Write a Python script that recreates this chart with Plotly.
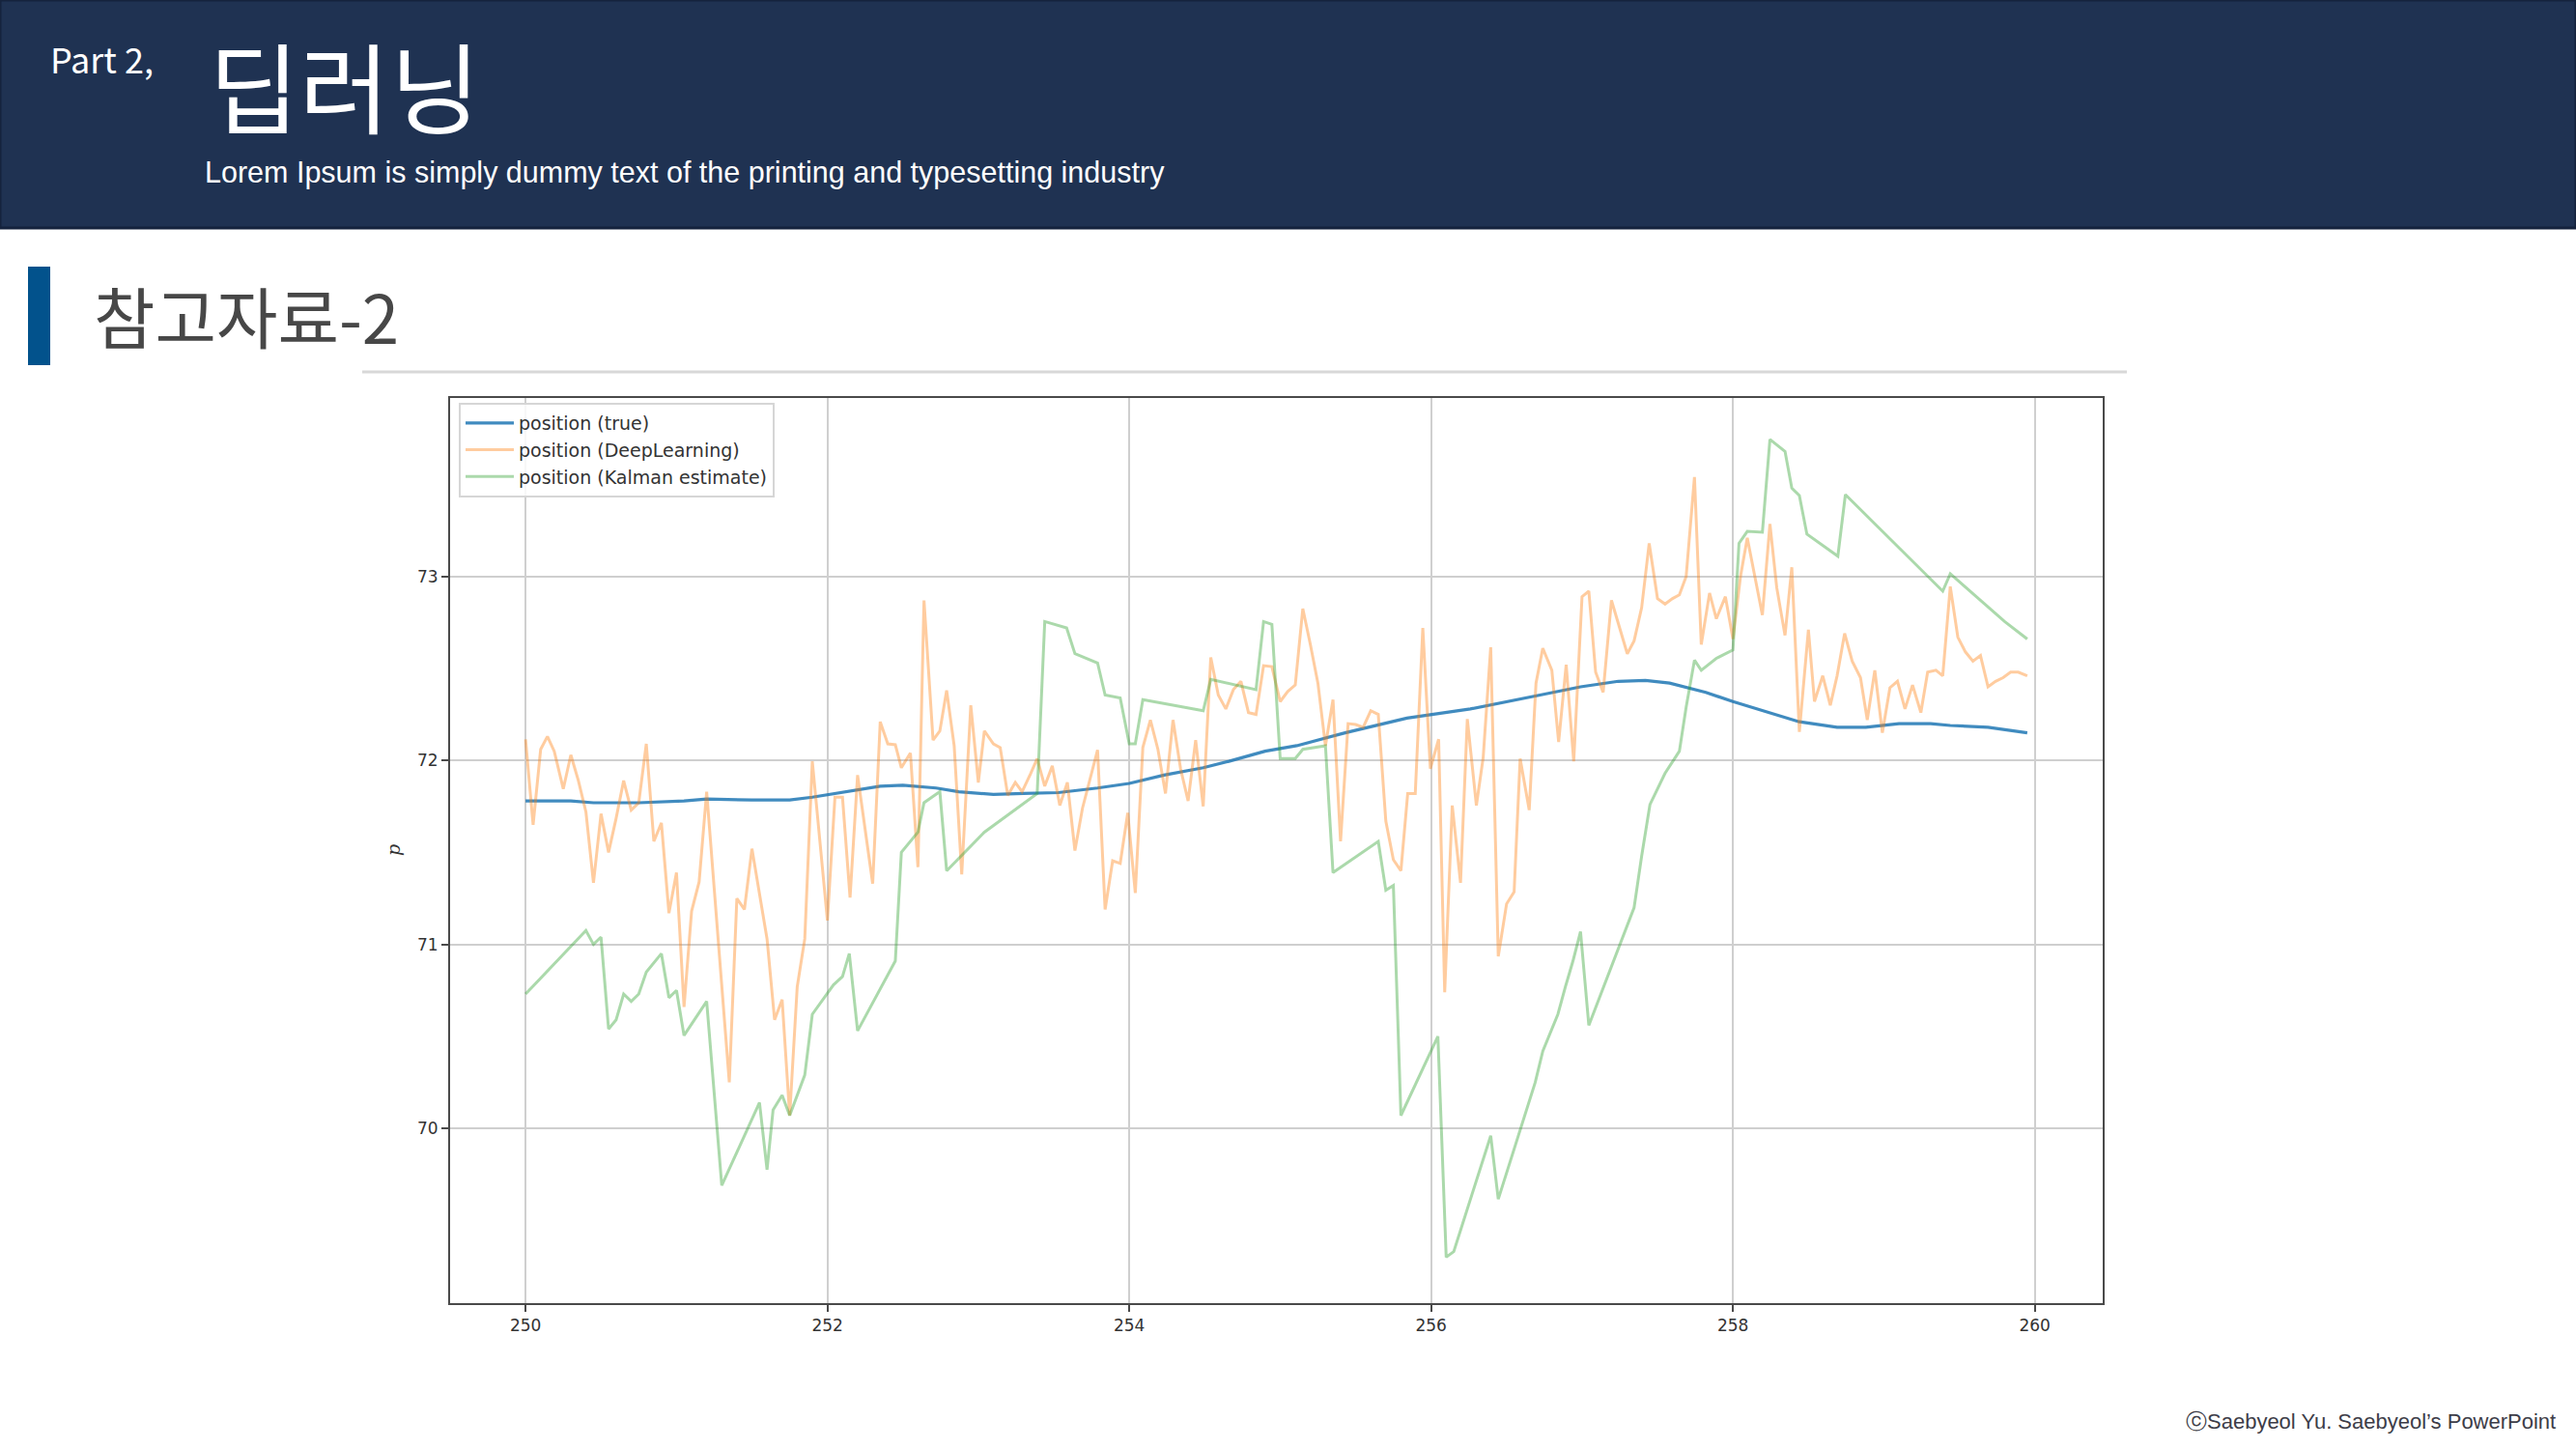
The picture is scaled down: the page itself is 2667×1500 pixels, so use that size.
import plotly.graph_objects as go

W, H = 2667, 1500

# ---- data ----
true_x = [250.0, 250.3, 250.45, 250.75, 251.05, 251.2, 251.5, 251.75, 251.9, 252.05,
          252.2, 252.35, 252.5, 252.72, 252.87, 253.1, 253.3, 253.53, 253.79, 254.0,
          254.23, 254.49, 254.66, 254.9, 255.11, 255.43, 255.84, 256.0, 256.26, 256.69,
          256.99, 257.24, 257.42, 257.58, 257.82, 258.0, 258.2, 258.44, 258.69, 258.88,
          259.1, 259.31, 259.44, 259.69, 259.95]
true_y = [71.78, 71.78, 71.77, 71.77, 71.78, 71.79, 71.785, 71.785, 71.80, 71.82,
          71.84, 71.86, 71.865, 71.85, 71.83, 71.815, 71.82, 71.825, 71.85, 71.875,
          71.92, 71.96, 71.995, 72.05, 72.08, 72.15, 72.23, 72.25, 72.28, 72.35,
          72.40, 72.43, 72.435, 72.42, 72.37, 72.32, 72.27, 72.21, 72.18, 72.18,
          72.20, 72.20, 72.19, 72.18, 72.15]

dl_x = [250.0, 250.05, 250.1, 250.145, 250.19, 250.25, 250.3, 250.35, 250.4, 250.45,
        250.5, 250.55, 250.6, 250.65, 250.7, 250.75, 250.8, 250.85, 250.9, 250.95,
        251.0, 251.05, 251.1, 251.15, 251.2, 251.35, 251.4, 251.45, 251.5, 251.6,
        251.65, 251.7, 251.75, 251.8, 251.85, 251.9, 252.0, 252.05, 252.1, 252.15,
        252.2, 252.3, 252.35, 252.4, 252.45, 252.49, 252.55, 252.6, 252.64, 252.7,
        252.745, 252.79, 252.84, 252.89, 252.95, 253.0, 253.04, 253.1, 253.145, 253.195,
        253.245, 253.29, 253.345, 253.39, 253.44, 253.49, 253.54, 253.59, 253.64, 253.69,
        253.79, 253.84, 253.89, 253.94, 253.99, 254.04, 254.09, 254.14, 254.19, 254.24,
        254.29, 254.34, 254.39, 254.44, 254.49, 254.54, 254.59, 254.64, 254.69, 254.74,
        254.79, 254.84, 254.89, 254.945, 255.0, 255.05, 255.1, 255.15, 255.2, 255.25,
        255.3, 255.35, 255.4, 255.45, 255.5, 255.55, 255.6, 255.65, 255.7, 255.75,
        255.8, 255.845, 255.895, 255.945, 255.995, 256.05, 256.09, 256.14, 256.195, 256.24,
        256.3, 256.345, 256.395, 256.445, 256.5, 256.55, 256.59, 256.65, 256.695, 256.74,
        256.8, 256.845, 256.895, 256.945, 257.0, 257.045, 257.09, 257.14, 257.195, 257.24,
        257.3, 257.345, 257.395, 257.445, 257.5, 257.55, 257.6, 257.645, 257.69, 257.745,
        257.79, 257.845, 257.89, 257.95, 258.0, 258.05, 258.095, 258.145, 258.195, 258.245,
        258.29, 258.345, 258.39, 258.44, 258.5, 258.54, 258.595, 258.645, 258.69, 258.74,
        258.79, 258.845, 258.89, 258.94, 258.99, 259.04, 259.09, 259.14, 259.19, 259.245,
        259.29, 259.345, 259.39, 259.44, 259.49, 259.54, 259.59, 259.64, 259.69, 259.74,
        259.79, 259.84, 259.89, 259.95]
dl_y = [72.115, 71.65, 72.06, 72.13, 72.05, 71.845, 72.03, 71.89, 71.72, 71.335,
        71.71, 71.50, 71.685, 71.89, 71.73, 71.77, 72.09, 71.56, 71.66, 71.17,
        71.39, 70.66, 71.18, 71.34, 71.83, 70.25, 71.25, 71.19, 71.52, 71.03,
        70.59, 70.70, 70.07, 70.77, 71.03, 71.995, 71.13, 71.80, 71.80, 71.255,
        71.92, 71.33, 72.21, 72.09, 72.085, 71.96, 72.04, 71.42, 72.87, 72.11,
        72.16, 72.38, 72.08, 71.38, 72.30, 71.88, 72.16, 72.09, 72.07, 71.81,
        71.88, 71.83, 71.925, 72.01, 71.86, 71.97, 71.755, 71.88, 71.51, 71.74,
        72.057, 71.19, 71.455, 71.44, 71.715, 71.28, 72.07, 72.22, 72.06, 71.82,
        72.22, 71.955, 71.78, 72.11, 71.75, 72.56, 72.355, 72.28, 72.385, 72.43,
        72.26, 72.25, 72.515, 72.51, 72.32, 72.375, 72.41, 72.825, 72.63, 72.42,
        72.08, 72.33, 71.56, 72.20, 72.195, 72.18, 72.27, 72.25, 71.67, 71.46,
        71.40, 71.82, 71.82, 72.72, 71.955, 72.115, 70.74, 71.755, 71.335, 72.225,
        71.755, 72.015, 72.615, 70.935, 71.22, 71.285, 72.01, 71.73, 72.42, 72.61,
        72.49, 72.10, 72.52, 71.995, 72.89, 72.92, 72.48, 72.37, 72.87, 72.74,
        72.58, 72.65, 72.83, 73.18, 72.88, 72.85, 72.88, 72.90, 73.0, 73.54,
        72.63, 72.91, 72.77, 72.89, 72.66, 73.0, 73.21, 73.0, 72.79, 73.285,
        72.94, 72.68, 73.05, 72.155, 72.71, 72.32, 72.46, 72.30, 72.46, 72.69,
        72.54, 72.45, 72.22, 72.49, 72.15, 72.395, 72.43, 72.28, 72.41, 72.26,
        72.48, 72.49, 72.46, 72.945, 72.67, 72.59, 72.54, 72.57, 72.40, 72.43,
        72.45, 72.48, 72.48, 72.46]

kf_x = [250.0, 250.4, 250.45, 250.5, 250.55, 250.6, 250.65, 250.7, 250.75, 250.8,
        250.9, 250.95, 251.0, 251.05, 251.2, 251.3, 251.55, 251.6, 251.64, 251.7,
        251.75, 251.8, 251.85, 251.9, 252.04, 252.1, 252.145, 252.2, 252.45, 252.49,
        252.6, 252.64, 252.745, 252.79, 253.04, 253.39, 253.44, 253.585, 253.64, 253.79,
        253.84, 253.94, 254.0, 254.04, 254.09, 254.49, 254.54, 254.84, 254.89, 254.945,
        255.0, 255.1, 255.15, 255.3, 255.35, 255.65, 255.7, 255.75, 255.8, 256.045,
        256.1, 256.15, 256.395, 256.445, 256.545, 256.69, 256.74, 256.84, 256.89, 256.94,
        256.99, 257.045, 257.345, 257.395, 257.45, 257.55, 257.645, 257.69, 257.745, 257.79,
        257.89, 258.0, 258.04, 258.095, 258.195, 258.245, 258.345, 258.39, 258.44, 258.49,
        258.695, 258.745, 259.39, 259.44, 259.8, 259.84, 259.95]
kf_y = [70.73, 71.075, 71.0, 71.04, 70.54, 70.59, 70.73, 70.69, 70.73, 70.85,
        70.95, 70.71, 70.75, 70.505, 70.69, 69.69, 70.14, 69.775, 70.10, 70.18,
        70.07, 70.18, 70.29, 70.62, 70.78, 70.825, 70.95, 70.53, 70.91, 71.50,
        71.61, 71.77, 71.83, 71.40, 71.61, 71.82, 72.755, 72.72, 72.58, 72.53,
        72.355, 72.34, 72.09, 72.09, 72.33, 72.27, 72.44, 72.385, 72.755, 72.74,
        72.01, 72.01, 72.06, 72.08, 71.39, 71.56, 71.295, 71.32, 70.07, 70.50,
        69.30, 69.33, 69.96, 69.615, 69.87, 70.25, 70.42, 70.62, 70.77, 70.91,
        71.07, 70.56, 71.20, 71.48, 71.76, 71.93, 72.05, 72.29, 72.545, 72.49,
        72.555, 72.60, 73.18, 73.245, 73.24, 73.745, 73.68, 73.48, 73.44, 73.23,
        73.11, 73.445, 72.92, 73.015, 72.755, 72.73, 72.66]

x_ticks = [250, 252, 254, 256, 258, 260]
y_ticks = [70, 71, 72, 73]
series_names = ["position (true)", "position (DeepLearning)", "position (Kalman estimate)"]


def px(x):
    return x / W


def py(y):
    return 1 - y / H


fig = go.Figure()
fig.add_trace(go.Scatter(x=true_x, y=true_y, mode="lines", name=series_names[0],
                         line=dict(color="rgba(31,119,180,0.85)", width=3.2)))
fig.add_trace(go.Scatter(x=dl_x, y=dl_y, mode="lines", name=series_names[1],
                         line=dict(color="rgba(255,127,14,0.4)", width=3)))
fig.add_trace(go.Scatter(x=kf_x, y=kf_y, mode="lines", name=series_names[2],
                         line=dict(color="rgba(44,160,44,0.4)", width=3)))

axis_common = dict(showgrid=True, gridcolor="#cfcfcf", gridwidth=2,
                   showline=True, linecolor="#4a4a4a", linewidth=2, mirror=True,
                   ticks="outside", ticklen=7, tickwidth=2, tickcolor="#4a4a4a",
                   zeroline=False,
                   tickfont=dict(family="DejaVu Sans", size=17, color="#333333"))

fig.update_xaxes(range=[249.5, 260.45], tickvals=x_ticks,
                 domain=[px(466), px(2177)], **axis_common)
fig.update_yaxes(range=[69.05, 73.97], tickvals=y_ticks,
                 domain=[py(1349), py(412)], **axis_common)

shapes = [
    # header band
    dict(type="rect", xref="paper", yref="paper", x0=0, x1=1, y0=py(236), y1=1,
         fillcolor="#1f3252", line=dict(color="#15233d", width=3), layer="below"),
    # accent bar
    dict(type="rect", xref="paper", yref="paper", x0=px(29), x1=px(52), y0=py(378), y1=py(276),
         fillcolor="#02528c", line=dict(width=0)),
    # separator line
    dict(type="line", xref="paper", yref="paper", x0=px(375), x1=px(2202), y0=py(385), y1=py(385),
         line=dict(color="#d8d8d8", width=3)),
]

annotations = [
    dict(text="Part 2,", x=px(50), y=py(60), xref="paper", yref="paper",
         xanchor="left", yanchor="middle", showarrow=False,
         font=dict(family="Noto Sans CJK KR", size=36, color="white")),
    dict(text="딥러닝", x=px(214), y=py(86), xref="paper", yref="paper",
         xanchor="left", yanchor="middle", showarrow=False,
         font=dict(family="Noto Sans CJK KR", size=102, color="white")),
    dict(text="Lorem Ipsum is simply dummy text of the printing and typesetting industry",
         x=px(210), y=py(178), xref="paper", yref="paper",
         xanchor="left", yanchor="middle", showarrow=False,
         font=dict(family="Liberation Sans", size=30.5, color="white")),
    dict(text="참고자료-2", x=px(95), y=py(326), xref="paper", yref="paper",
         xanchor="left", yanchor="middle", showarrow=False,
         font=dict(family="Noto Sans CJK KR", size=69, color="#474747")),
    dict(text="<i>p</i>", x=px(407), y=py(880), xref="paper", yref="paper",
         xanchor="center", yanchor="middle", showarrow=False, textangle=-90,
         font=dict(family="DejaVu Serif", size=19, color="#333333")),
    dict(text="ⓒSaebyeol Yu. Saebyeol’s PowerPoint", x=px(2648), y=py(1471),
         xref="paper", yref="paper", xanchor="right", yanchor="middle", showarrow=False,
         font=dict(family="Liberation Sans", size=22, color="#3d3d48")),
]

fig.update_layout(
    width=W, height=H,
    margin=dict(l=0, r=0, t=0, b=0),
    paper_bgcolor="white", plot_bgcolor="white",
    shapes=shapes, annotations=annotations,
    showlegend=True,
    legend=dict(x=px(475), y=py(417), xanchor="left", yanchor="top",
                bgcolor="rgba(255,255,255,0.85)", bordercolor="#d6d6d6", borderwidth=2,
                font=dict(family="DejaVu Sans", size=19, color="#333333"),
                itemwidth=50, tracegroupgap=0),
)

# page has a default body margin; remove it so the slide sits at the window origin
fig.write_html("out.html", config={"displayModeBar": False},
               post_script="document.body.style.margin='0';document.body.style.overflow='hidden';")
